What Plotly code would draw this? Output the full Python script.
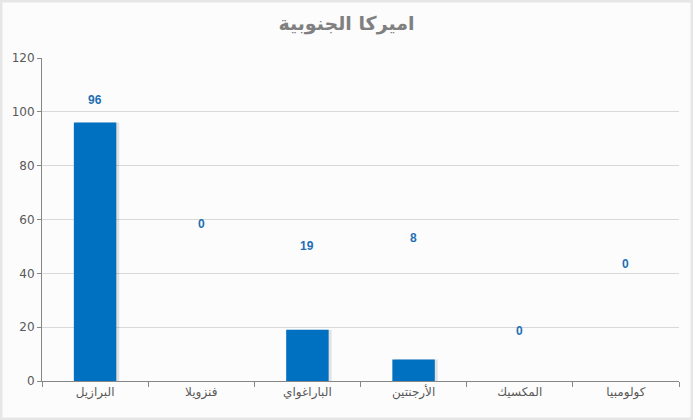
import plotly.graph_objects as go

# data
countries = ['البرازيل', 'فنزويلا', 'الباراغواي', 'الأرجنتين', 'المكسيك', 'كولومبيا']
values = [96, 0, 19, 8, 0, 0]

# where the data labels sit in the original (axis units)
label_y = [104.5, 58.5, 50, 53, 18.5, 43.5]

fig = go.Figure()

# soft shadow to the right of each bar
fig.add_trace(go.Bar(
    x=countries, y=values,
    marker=dict(color='rgba(0,0,0,0.10)', line=dict(width=0)),
    width=0.4, offset=-0.172,
    hoverinfo='skip',
))
fig.add_trace(go.Bar(
    x=countries, y=values,
    marker=dict(color='#0070C0', line=dict(width=0)),
    width=0.4, offset=-0.2,
    hoverinfo='x+y',
))

for c, v, ly in zip(countries, values, label_y):
    fig.add_annotation(x=c, y=ly, text='<b>%d</b>' % v, showarrow=False,
                       font=dict(color='#1F6FB4', size=12, family='Liberation Sans, DejaVu Sans'))

fig.update_layout(
    width=693, height=420,
    title=dict(text='<b>اميركا الجنوبية</b>', x=0.5, y=1 - 23 / 420, xanchor='center', yanchor='middle',
               font=dict(size=19, color='#808080', family='DejaVu Sans')),
    paper_bgcolor='#FCFCFC', plot_bgcolor='#FCFCFC',
    margin=dict(l=42, r=14, t=58, b=39),
    showlegend=False,
    barmode='overlay',
    font=dict(family='DejaVu Sans, Liberation Sans', color='#595959', size=12),
)
fig.update_xaxes(
    showline=True, linecolor='#868686', linewidth=1,
    ticks='outside', tickson='boundaries', ticklen=5, tickcolor='#868686',
    tickfont=dict(size=12, color='#595959'),
    showgrid=False,
)
fig.update_yaxes(
    range=[0, 120], dtick=20,
    showline=True, linecolor='#868686', linewidth=1,
    ticks='outside', ticklen=4, tickcolor='#868686',
    gridcolor='#D9D9D9', gridwidth=1,
    zeroline=False,
    tickfont=dict(size=12, color='#595959'),
)

# light frame round the chart
fig.add_shape(type='rect', xref='paper', yref='paper',
              x0=-42 / 637, x1=1 + 14 / 637, y0=-39 / 323, y1=1 + 58 / 323,
              line=dict(color='#E6E6E6', width=5), layer='below')

fig.write_html('out.html', config={'displayModeBar': False},
               post_script="document.body.style.margin='0';")
